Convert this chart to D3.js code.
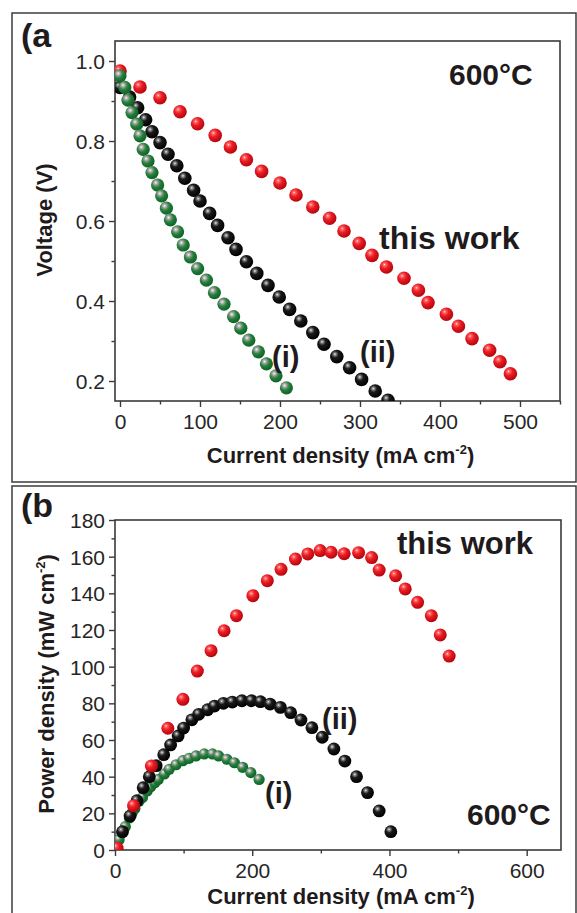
<!DOCTYPE html>
<html><head><meta charset="utf-8">
<script src="https://cdn.jsdelivr.net/npm/d3@7"></script>
<style>
body{margin:0;background:#fff;}
svg{display:block;font-family:"Liberation Sans",Arial,sans-serif;}
</style></head>
<body>
<svg id="chart" width="577" height="913"></svg>
<script>
// ---------- Panel (a): voltage vs current density ----------
const aCurrentRed = [0,25,50,75,97,119,138,158,177,200,220,241,262,280,299,315,333,355,373,385,408,423,440,462,475,488];
const aVoltageRed = [0.975,0.935,0.908,0.873,0.843,0.814,0.785,0.753,0.724,0.695,0.665,0.635,0.607,0.575,0.544,0.514,0.485,0.457,0.427,0.396,0.367,0.337,0.306,0.277,0.248,0.218];
const aCurrentBlack = [0,12,22,32,40,50,60,71,81,92,100,112,122,135,145,158,171,185,199,212,226,241,255,271,287,302,319,335];
const aVoltageBlack = [0.934,0.910,0.883,0.853,0.823,0.796,0.767,0.738,0.707,0.677,0.650,0.619,0.589,0.558,0.529,0.498,0.469,0.439,0.410,0.379,0.350,0.321,0.292,0.261,0.233,0.204,0.175,0.152];
const aCurrentGreen = [0,6,10,15,21,25,29,35,40,47,52,58,63,72,79,88,97,108,118,130,142,151,161,173,183,195,208];
const aVoltageGreen = [0.963,0.934,0.902,0.871,0.842,0.813,0.779,0.750,0.721,0.690,0.663,0.632,0.603,0.573,0.540,0.510,0.481,0.452,0.421,0.392,0.361,0.332,0.302,0.273,0.243,0.213,0.183];
const aXTicks = [0,100,200,300,400,500];
const aXMinor = [50,150,250,350,450,550];
const aYTicks = [0.2,0.4,0.6,0.8,1.0];
const aYMinor = [0.3,0.5,0.7,0.9];

// ---------- Panel (b): power density vs current density ----------
const bCurrentRed = [3,27,53,77,99,120,140,159,177,201,222,242,263,281,299,315,334,355,374,385,409,423,441,461,474,487];
const bPowerRed = [1,24.2,45.8,66.4,82.2,97.6,108.7,119.6,127.8,138.7,146.9,153.1,158.7,161.5,163.3,162.4,161.6,162.2,159.5,152.7,149.6,142.4,135.1,127.8,117.3,105.8];
const bCurrentBlack = [0,11,22,32,41,50,60,71,81,92,100,112,122,135,145,158,171,185,199,212,226,241,256,271,287,302,319,335,352,368,385,402];
const bPowerBlack = [0,10,18.5,26.9,34,40,46,52,57.3,62.2,66.5,71,74,76.5,78.5,80,80.7,81.4,81.4,80.9,79.6,77.8,74.9,70.9,66.7,61.5,55.1,48.5,40,31.3,21.3,10];
const bCurrentGreen = [0,6,10,15,21,25,29,35,40,47,52,58,63,72,79,89,99,108,118,130,142,151,163,174,186,198,210];
const bPowerGreen = [0,5.6,9.5,12.7,17.5,20.3,22.6,26.6,28.6,32.2,34.5,36.7,38.5,41.5,44,46.5,48.7,50,51.3,52.4,52.4,51.3,49.5,47.6,45.1,42.2,38.5];
const bXTicks = [0,200,400,600];
const bXMinor = [100,300,500];
const bYTicks = [0,20,40,60,80,100,120,140,160,180];
const bYMinor = [10,30,50,70,90,110,130,150,170];

const svg = d3.select("#chart");
const ink = "#1f1b1c";
const axisCol = "#3a3a3a";

// gradients for sphere-like markers
const defs = svg.append("defs");
function grad(id, stops){
  const g = defs.append("radialGradient").attr("id", id)
    .attr("cx","38%").attr("cy","35%").attr("r","65%").attr("fx","36%").attr("fy","32%");
  stops.forEach(s => g.append("stop").attr("offset", s[0]).attr("stop-color", s[1]));
}
grad("gRed", [["0%","#ffe4e4"],["14%","#ff6a6a"],["45%","#ec1c24"],["100%","#b3060c"]]);
grad("gBlack", [["0%","#f0f0f0"],["14%","#8a8a8a"],["40%","#1a1a1a"],["100%","#000"]]);
grad("gGreen", [["0%","#f4f4f4"],["22%","#a8a8a8"],["42%","#4f8a5a"],["60%","#1d7c37"],["100%","#106326"]]);

// outer panel frames
svg.append("rect").attr("x",12).attr("y",13).attr("width",564).attr("height",469)
  .attr("fill","none").attr("stroke","#3c3c3c").attr("stroke-width",1.5);
svg.append("rect").attr("x",12).attr("y",486).attr("width",564).attr("height",440)
  .attr("fill","none").attr("stroke","#3c3c3c").attr("stroke-width",1.5);

function panel(cfg){
  const g = svg.append("g");
  const x = d3.scaleLinear().domain(cfg.xDomain).range([cfg.left, cfg.right]);
  const y = d3.scaleLinear().domain(cfg.yDomain).range([cfg.bottom, cfg.top]);

  const clipId = "clip" + cfg.id;
  defs.append("clipPath").attr("id", clipId).append("rect")
    .attr("x", cfg.left).attr("y", cfg.top)
    .attr("width", cfg.right - cfg.left).attr("height", cfg.bottom - cfg.top);

  function styleAxis(sel){
    sel.select(".domain").remove();
    sel.selectAll(".tick line").attr("stroke", axisCol).attr("stroke-width", 1.4);
    sel.selectAll(".tick text").attr("fill", "#262626").style("font-size","21px")
      .style("font-family","'Liberation Sans',Arial,sans-serif");
  }
  g.append("g").attr("class","xa").attr("transform",`translate(0,${cfg.bottom})`)
    .call(d3.axisBottom(x).tickValues(cfg.xTicks).tickSize(6).tickPadding(7).tickFormat(d3.format("d")))
    .call(styleAxis);
  g.append("g").attr("transform",`translate(0,${cfg.bottom})`)
    .call(d3.axisBottom(x).tickValues(cfg.xMinor).tickSize(3.5).tickFormat(""))
    .call(styleAxis);
  g.append("g").attr("class","ya").attr("transform",`translate(${cfg.left},0)`)
    .call(d3.axisLeft(y).tickValues(cfg.yTicks).tickSize(6).tickPadding(4).tickFormat(cfg.yFormat))
    .call(styleAxis);
  g.append("g").attr("transform",`translate(${cfg.left},0)`)
    .call(d3.axisLeft(y).tickValues(cfg.yMinor).tickSize(3.5).tickFormat(""))
    .call(styleAxis);
  g.selectAll(".xa .tick text").attr("dy","0.72em");
  g.selectAll(".ya .tick text").attr("dy","0.36em");

  // plot frame
  g.append("rect").attr("x", cfg.left).attr("y", cfg.top)
    .attr("width", cfg.right - cfg.left).attr("height", cfg.bottom - cfg.top)
    .attr("fill","none").attr("stroke", axisCol).attr("stroke-width", 1.6);

  // series
  const plot = g.append("g").attr("clip-path", `url(#${clipId})`);
  cfg.series.forEach(s => {
    plot.append("g").selectAll("circle").data(s.xs.map((v,i)=>[v, s.ys[i]]))
      .join("circle")
      .attr("cx", d => x(d[0])).attr("cy", d => y(d[1]))
      .attr("r", s.r).attr("fill", `url(#${s.fill})`);
  });

  // axis titles
  const xt = g.append("text").attr("x", (cfg.left + cfg.right)/2 + 3).attr("y", cfg.xTitleY)
    .attr("text-anchor","middle").attr("fill", ink)
    .style("font-size","22px").style("font-weight","bold");
  xt.append("tspan").text("Current density (mA cm");
  xt.append("tspan").text("-2").style("font-size","13px").attr("dy", -9);
  xt.append("tspan").text(")").attr("dy", 9);

  const yt = g.append("text").attr("transform", `translate(${cfg.yTitleX},${(cfg.top+cfg.bottom)/2 - 1}) rotate(-90)`)
    .attr("text-anchor","middle").attr("fill", ink)
    .style("font-size","22px").style("font-weight","bold");
  yt.append("tspan").text(cfg.yTitle);
  if (cfg.yTitleSup){
    yt.append("tspan").text(cfg.yTitleSup).style("font-size","13px").attr("dy", -9);
    yt.append("tspan").text(")").attr("dy", 9);
  }
  return {g, x, y};
}

const A = panel({
  id:"A", left:115, right:560, top:41, bottom:401,
  xDomain:[-6.25, 550], yDomain:[0.15, 1.05],
  xTicks:aXTicks, xMinor:aXMinor, yTicks:aYTicks, yMinor:aYMinor,
  yFormat:d3.format(".1f"),
  xTitleY:463, yTitleX:52, yTitle:"Voltage (V)",
  series:[
    {xs:aCurrentRed, ys:aVoltageRed, fill:"gRed", r:6.8},
    {xs:aCurrentBlack, ys:aVoltageBlack, fill:"gBlack", r:6.8},
    {xs:aCurrentGreen, ys:aVoltageGreen, fill:"gGreen", r:6.6}
  ]
});

const B = panel({
  id:"B", left:115, right:561, top:520, bottom:850,
  xDomain:[0, 650], yDomain:[0, 180],
  xTicks:bXTicks, xMinor:bXMinor, yTicks:bYTicks, yMinor:bYMinor,
  yFormat:d3.format("d"),
  xTitleY:904, yTitleX:54, yTitle:"Power density (mW cm", yTitleSup:"-2",
  series:[
    {xs:bCurrentGreen, ys:bPowerGreen, fill:"gGreen", r:5.6},
    {xs:bCurrentBlack, ys:bPowerBlack, fill:"gBlack", r:6.4},
    {xs:bCurrentRed, ys:bPowerRed, fill:"gRed", r:6.5}
  ]
});

// annotations
function label(txt, px, py, size){
  svg.append("text").attr("x", px).attr("y", py).attr("fill", ink)
    .style("font-size", size + "px").style("font-weight","bold").text(txt);
}
label("(a", 21, 47, 34);
label("(b", 21, 517, 34);
label("600°C", 449, 85, 30);
label("this work", 379, 249, 32);
label("(i)", 272, 367, 29);
label("(ii)", 360, 362, 29);
label("this work", 397, 554, 31);
label("(ii)", 322, 729, 29);
label("(i)", 265, 803, 29);
label("600°C", 467, 825, 30);
</script>
</body></html>
